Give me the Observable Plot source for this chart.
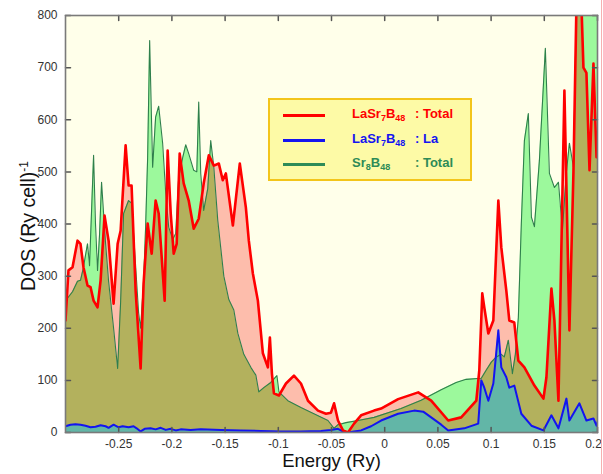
<!DOCTYPE html>
<html>
<head>
<meta charset="utf-8">
<script src="https://cdn.jsdelivr.net/npm/d3@7"></script>
<script src="https://cdn.jsdelivr.net/npm/@observablehq/plot@0.6"></script>
<style>
  html, body { margin: 0; padding: 0; background: #fff; }
  #wrap { position: relative; width: 603px; height: 474px; overflow: hidden; font-family: "Liberation Sans", Arial, sans-serif; }
  #legend { position: absolute; left: 268px; top: 98px; width: 204px; height: 83px; box-sizing: border-box;
            border: 2px solid #f3c51a; background: #fdfaa6; font: bold 13px "Liberation Sans", Arial, sans-serif; }
  #legend .sw { position: absolute; left: 13px; width: 42px; height: 3px; }
  #legend .nm, #legend .tl { position: absolute; line-height: 14px; white-space: nowrap; }
  #legend .nm { left: 82px; }
  #legend .tl { left: 145px; }
  #legend sub { font-size: 9px; vertical-align: -3px; line-height: 0; }
  #edge { position: absolute; left: 601px; top: 0; width: 1px; height: 474px; background: #f6b0b0; }
</style>
</head>
<body>
<div id="wrap"></div>
<script>
// ---- data (Energy in Ry, DOS in (Ry cell)^-1) ----
const redE = [-0.3000,-0.2972,-0.2934,-0.2887,-0.2859,-0.2831,-0.2793,-0.2765,-0.2736,-0.2699,-0.2670,-0.2633,-0.2595,-0.2548,-0.2510,-0.2482,-0.2435,-0.2407,-0.2379,-0.2341,-0.2294,-0.2266,-0.2228,-0.2190,-0.2153,-0.2124,-0.2068,-0.2040,-0.2011,-0.1983,-0.1955,-0.1927,-0.1889,-0.1842,-0.1795,-0.1748,-0.1701,-0.1653,-0.1606,-0.1559,-0.1522,-0.1493,-0.1427,-0.1362,-0.1305,-0.1277,-0.1239,-0.1192,-0.1145,-0.1098,-0.1079,-0.1060,-0.1041,-0.0994,-0.0928,-0.0853,-0.0787,-0.0721,-0.0627,-0.0552,-0.0505,-0.0476,-0.0439,-0.0392,-0.0345,-0.0288,-0.0222,-0.0100,-0.0034,0.0126,0.0315,0.0437,0.0597,0.0719,0.0861,0.0889,0.0917,0.0936,0.0974,0.1021,0.1068,0.1096,0.1143,0.1171,0.1218,0.1256,0.1313,0.1407,0.1492,0.1520,0.1567,0.1595,0.1633,0.1689,0.1736,0.1774,0.1802,0.1849,0.1868,0.1896,0.1925,0.1962,0.1991,0.2000];
const redDos = [215,311,317,368,362,317,282,279,253,240,292,416,368,247,362,387,551,474,474,272,123,286,401,343,445,420,253,541,420,343,362,535,478,445,391,410,478,532,512,516,484,497,397,516,432,368,305,253,152,125,182,113,75,71,94,109,94,61,42,36,38,56,23,4,0,17,33,42,46,64,77,61,23,29,61,119,267,240,190,215,445,355,272,215,211,138,125,90,65,106,276,215,61,656,196,500,820,820,700,690,503,708,528,540];

const greenE = [-0.3000,-0.2972,-0.2934,-0.2887,-0.2859,-0.2831,-0.2812,-0.2793,-0.2774,-0.2736,-0.2718,-0.2699,-0.2680,-0.2661,-0.2642,-0.2623,-0.2595,-0.2548,-0.2510,-0.2482,-0.2454,-0.2407,-0.2379,-0.2341,-0.2313,-0.2294,-0.2266,-0.2247,-0.2228,-0.2209,-0.2181,-0.2153,-0.2124,-0.2087,-0.2058,-0.2030,-0.1992,-0.1964,-0.1936,-0.1898,-0.1870,-0.1842,-0.1795,-0.1766,-0.1748,-0.1729,-0.1701,-0.1663,-0.1635,-0.1606,-0.1569,-0.1512,-0.1465,-0.1418,-0.1380,-0.1324,-0.1258,-0.1211,-0.1183,-0.1136,-0.1070,-0.1013,-0.0994,-0.0910,-0.0787,-0.0665,-0.0533,-0.0476,-0.0439,-0.0363,-0.0250,-0.0100,0.0154,0.0343,0.0531,0.0672,0.0766,0.0908,0.0955,0.1002,0.1049,0.1096,0.1124,0.1162,0.1200,0.1228,0.1256,0.1284,0.1313,0.1350,0.1379,0.1407,0.1454,0.1510,0.1548,0.1595,0.1633,0.1670,0.1708,0.1736,0.1774,0.1802,0.2000];
const greenDos = [255,260,270,290,292,317,340,362,320,532,400,311,380,480,420,362,290,200,123,250,420,445,440,320,230,200,290,394,528,752,509,605,626,555,459,394,370,382,490,528,552,535,503,500,634,497,426,468,560,509,407,300,255,235,190,150,125,110,78,86,96,109,78,61,48,36,23,8,15,19,23,29,46,62,82,96,102,104,120,135,145,150,145,177,113,150,220,400,560,612,413,395,522,737,497,470,480,388,500,555,509,820,820];

const blueE = [-0.3000,-0.2953,-0.2906,-0.2859,-0.2812,-0.2765,-0.2718,-0.2670,-0.2623,-0.2595,-0.2548,-0.2501,-0.2463,-0.2407,-0.2360,-0.2331,-0.2294,-0.2256,-0.2200,-0.2153,-0.2105,-0.2058,-0.2011,-0.1964,-0.1917,-0.1823,-0.1729,-0.1540,-0.1352,-0.1164,-0.0975,-0.0787,-0.0599,-0.0505,-0.0439,-0.0382,-0.0345,-0.0288,-0.0222,-0.0128,-0.0034,0.0126,0.0277,0.0362,0.0437,0.0531,0.0597,0.0748,0.0879,0.0908,0.0936,0.0974,0.1021,0.1068,0.1096,0.1143,0.1171,0.1218,0.1284,0.1379,0.1492,0.1567,0.1633,0.1708,0.1736,0.1830,0.1896,0.1962,0.1991,0.2000];
const blueDos = [12,15,16,15,13,10,11,14,12,9,15,10,12,10,12,8,2,7,8,6,9,5,7,4,6,5,6,5,4,3,2,2,3,5,7,1,0,2,4,12,23,36,42,40,29,15,4,8,17,100,86,61,94,196,125,106,86,90,36,13,4,33,8,65,23,56,23,27,13,20];

const xTicks = [-0.25,-0.2,-0.15,-0.1,-0.05,0,0.05,0.1,0.15,0.2];
const xTickLabels = ["-0.25","-0.2","-0.15","-0.1","-0.05","0","0.05","0.1","0.15","0.2"];
const yTicks = [0,100,200,300,400,500,600,700,800];
const xLabel = "Energy (Ry)";
const yLabelMain = "DOS (Ry cell)";
const yLabelSup = "-1";

const seriesNames = ["LaSr7B48 : Total", "LaSr7B48 : La", "Sr8B48 : Total"];

// ---- build tables ----
const red = redE.map((e, i) => ({e, v: redDos[i]}));
const green = greenE.map((e, i) => ({e, v: greenDos[i]}));
const blue = blueE.map((e, i) => ({e, v: blueDos[i]}));

const C = {
  bg: "#ffffea", greenFill: "#9cf99c", redFill: "#fdbdac", olive: "#b3b15d", teal: "#62b6a7",
  red: "#ff0000", blue: "#1414f0", green: "#2f7f4c", tick: "#555"
};

// inward tick shape for Plot.vector
const tickShape = {draw(ctx, l) { ctx.moveTo(0, 0); ctx.lineTo(0, -l); }};
const xTicksMain = xTicks.slice(0, -1);
const xTickLast = xTicks.slice(-1);

const chart = Plot.plot({
  width: 603, height: 474,
  marginLeft: 65, marginRight: 6, marginTop: 15, marginBottom: 42,
  style: {fontFamily: "'Liberation Sans', Arial, sans-serif", fontSize: "12px", color: "#333", background: "transparent"},
  x: {domain: [-0.3, 0.2]},
  y: {domain: [0, 800]},
  marks: [
    Plot.frame({fill: C.bg}),
    Plot.areaY(green, {x: "e", y: "v", fill: C.greenFill, clip: true}),
    Plot.areaY(red, {x: "e", y: "v", fill: C.redFill, clip: true}),
    Plot.areaY(green, {x: "e", y: "v", fill: C.olive, clip: true}),
    Plot.areaY(blue, {x: "e", y: "v", fill: C.teal, clip: true}),
    Plot.lineY(green, {x: "e", y: "v", stroke: C.green, strokeWidth: 1.1, clip: true}),
    Plot.lineY(blue, {x: "e", y: "v", stroke: C.blue, strokeWidth: 2, clip: true}),
    Plot.lineY(red, {x: "e", y: "v", stroke: C.red, strokeWidth: 2.6, clip: true}),
    // tick labels
    Plot.axisX({anchor: "bottom", ticks: xTicksMain, tickFormat: (d, i) => xTickLabels[i], tickSize: 0, tickPadding: 7, label: null}),
    Plot.axisX({anchor: "bottom", ticks: xTickLast, tickFormat: () => xTickLabels[xTickLabels.length - 1], tickSize: 0, tickPadding: 7, dx: -4, label: null}),
    Plot.axisY({anchor: "left", ticks: yTicks, tickSize: 0, tickPadding: 8, label: null}),
    // inward tick marks on all four sides
    Plot.vector(xTicks, {x: d => d, y: 0, length: 5, rotate: 0, anchor: "start", shape: tickShape, stroke: C.tick}),
    Plot.vector(xTicks, {x: d => d, y: 800, length: 5, rotate: 180, anchor: "start", shape: tickShape, stroke: C.tick}),
    Plot.vector(yTicks, {x: -0.3, y: d => d, length: 5, rotate: 90, anchor: "start", shape: tickShape, stroke: C.tick}),
    Plot.vector(yTicks, {x: 0.2, y: d => d, length: 5, rotate: -90, anchor: "start", shape: tickShape, stroke: C.tick}),
    Plot.frame({stroke: "#7a7a7a", strokeWidth: 1.6}),
    Plot.text([xLabel], {frameAnchor: "bottom", dy: 34, fontSize: 18.5, fill: "#111", text: d => d}),
    Plot.text([yLabelMain], {frameAnchor: "left", textAnchor: "middle", dx: -37, dy: 2, rotate: -90, fontSize: 19.5, fill: "#111", text: d => d})
  ]
});

const svg = d3.select(chart);
// olive = overlap of the two total DOS areas (green area clipped by red area)
try {
  const areaGroups = svg.selectAll('g[aria-label="area"]').nodes();
  if (areaGroups.length >= 3) {
    const redPath = d3.select(areaGroups[1]).select("path");
    const defs = svg.insert("defs", ":first-child");
    defs.append("clipPath").attr("id", "redAreaClip")
      .append("path").attr("d", redPath.attr("d"));
    d3.select(areaGroups[2]).selectAll("path").attr("clip-path", "url(#redAreaClip)");
  }
} catch (err) { console.log(err); }
// superscript on the y label
try {
  svg.selectAll("text").filter(function() { return this.textContent === yLabelMain; })
    .append("tspan").attr("dy", "-0.55em").attr("font-size", "12px").text(yLabelSup);
} catch (err) { console.log(err); }

const wrap = document.getElementById("wrap");
wrap.appendChild(chart);

// legend
const legendItems = [
  {color: C.red, name: 'LaSr<sub>7</sub>B<sub>48</sub>', tail: ': Total', top: 15},
  {color: C.blue, name: 'LaSr<sub>7</sub>B<sub>48</sub>', tail: ': La', top: 40},
  {color: "#2e8b57", name: 'Sr<sub>8</sub>B<sub>48</sub>', tail: ': Total', top: 64}
];
const lg = document.createElement("div");
lg.id = "legend";
lg.innerHTML = legendItems.map((d, i) =>
  `<div class="sw" style="top:${d.top - 1}px;background:${d.color}" title="${seriesNames[i]}"></div>` +
  `<div class="nm" style="top:${d.top - 8}px;color:${d.color}">${d.name}</div>` +
  `<div class="tl" style="top:${d.top - 8}px;color:${d.color}">${d.tail}</div>`
).join("");
wrap.appendChild(lg);
const edge = document.createElement("div");
edge.id = "edge";
wrap.appendChild(edge);
</script>
</body>
</html>
